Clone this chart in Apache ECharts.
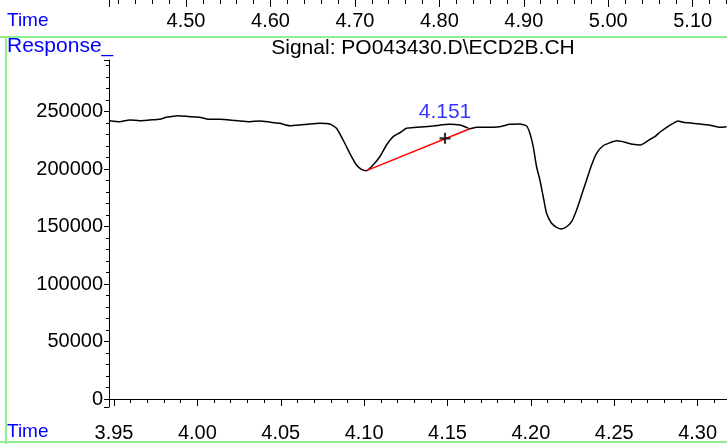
<!DOCTYPE html>
<html>
<head>
<meta charset="utf-8">
<script src="https://cdn.jsdelivr.net/npm/echarts@6/dist/echarts.min.js"></script>
<style>
html, body { margin: 0; padding: 0; background: #fff; }
#main { width: 727px; height: 444px; }
</style>
</head>
<body>
<div id="main"></div>
<script>
// signal trace (time, response)
var times = [3.9474, 3.9534, 3.9594, 3.9654, 3.9714, 3.9774, 3.9814, 3.9884, 3.9954, 4.0014,
	4.0054, 4.0134, 4.0194, 4.0254, 4.0314, 4.0374, 4.0434, 4.0494, 4.0554, 4.0614,
	4.0674, 4.0734, 4.0794, 4.0834, 4.0874, 4.0914, 4.0954, 4.0984, 4.1014, 4.1044,
	4.1094, 4.1134, 4.1174, 4.1214, 4.1254, 4.1314, 4.1414, 4.1514, 4.1574, 4.1614,
	4.1634, 4.1674, 4.1734, 4.1814, 4.1874, 4.1934, 4.1974, 4.1994, 4.2014, 4.2034,
	4.2054, 4.2074, 4.2094, 4.2124, 4.2154, 4.2184, 4.2214, 4.2244, 4.2274, 4.2304,
	4.2334, 4.2364, 4.2394, 4.2433, 4.2474, 4.2514, 4.2544, 4.2574, 4.2613, 4.2654,
	4.2684, 4.2714, 4.2744, 4.2773, 4.2814, 4.2853, 4.2883, 4.2913, 4.2973, 4.3014,
	4.3074, 4.3134, 4.3174];
var response = [242200, 241300, 242800, 242200, 242800, 243400, 245100, 246500, 245700, 245100,
	243700, 243400, 242800, 241900, 241300, 241900, 241000, 239900, 237800, 238400,
	239300, 239900, 239300, 235600, 225400, 213800, 203600, 199900, 198700, 202100,
	210800, 221000, 228300, 231700, 235600, 236400, 237600, 239000, 238400, 236400,
	235200, 236400, 236400, 237000, 239000, 239300, 237600, 231200, 219600, 202100,
	190600, 176000, 161600, 152900, 149400, 147900, 149900, 154300, 164500, 177500,
	190600, 203600, 213800, 220400, 223000, 224800, 224200, 223000, 221600, 221000,
	223000, 226000, 228300, 232100, 236400, 239900, 241900, 240800, 239900, 239300,
	238200, 236400, 237000];

// integration baseline of the peak
var baseTimes = [4.1014, 4.1634];
var baseValues = [198700, 235200];

// peak apex marker
var peakTimes = [4.1485];
var peakValues = [226800];
var peakLabels = ['4.151'];

// axis ranges
var timeRange = [3.947, 4.3176];
var upperTimeRange = [4.4088, 5.1406];
var responseRange = [-6960, 295000];

var signalName = 'Signal: PO043430.D\\ECD2B.CH';

var FONT = 'Liberation Sans, Arial, sans-serif';
var BLUE = '#0000ff';
var GREEN = '#90ee90';

function zip(a, b) {
	var out = [];
	for (var i = 0; i < a.length; i++) {
		out.push([a[i], b[i]]);
	}
	return out;
}

var myChart = echarts.init(document.getElementById('main'));

option = {
	backgroundColor : '#ffffff',
	animation : false,
	title : {
		text : signalName,
		left : 418,
		top : 33,
		textAlign : 'center',
		textStyle : {
			fontFamily : FONT,
			fontSize : 21,
			fontWeight : 'normal',
			color : '#000'
		}
	},
	grid : [ {
		left : 109,
		right : 0,
		top : 60,
		bottom : 37,
		outerBoundsMode : 'none'
	}, {
		// tail of the upper chart's time axis
		left : 109,
		right : 0,
		top : -60,
		height : 59,
		outerBoundsMode : 'none'
	} ],
	xAxis : [ {
		type : 'value',
		gridIndex : 0,
		min : timeRange[0],
		max : timeRange[1],
		splitNumber : 7,
		axisLine : { lineStyle : { color : '#000', width : 1 } },
		axisTick : { length : 7, lineStyle : { color : '#000' } },
		minorTick : { show : true, splitNumber : 5, length : 4, lineStyle : { color : '#000' } },
		splitLine : { show : false },
		axisLabel : {
			margin : 16,
			showMinLabel : false,
			showMaxLabel : false,
			color : '#000',
			fontFamily : FONT,
			fontSize : 20,
			formatter : function(v) { return v.toFixed(2); }
		}
	}, {
		type : 'value',
		gridIndex : 1,
		position : 'bottom',
		min : upperTimeRange[0],
		max : upperTimeRange[1],
		splitNumber : 7,
		axisLine : { show : false },
		axisTick : { length : 8, lineStyle : { color : '#000' } },
		minorTick : { show : true, splitNumber : 5, length : 5, lineStyle : { color : '#000' } },
		splitLine : { show : false },
		axisLabel : {
			margin : 12,
			showMinLabel : false,
			showMaxLabel : false,
			color : '#000',
			fontFamily : FONT,
			fontSize : 20,
			formatter : function(v) { return v.toFixed(2); }
		}
	} ],
	yAxis : [ {
		type : 'value',
		gridIndex : 0,
		min : responseRange[0],
		max : responseRange[1],
		splitNumber : 5,
		axisLine : { show : true, lineStyle : { color : '#000', width : 1 } },
		axisTick : { show : true, length : 5, lineStyle : { color : '#000' } },
		minorTick : { show : true, splitNumber : 5, length : 3, lineStyle : { color : '#000' } },
		splitLine : { show : false },
		axisLabel : {
			margin : 6,
			showMinLabel : false,
			showMaxLabel : false,
			color : '#000',
			fontFamily : FONT,
			fontSize : 20,
			formatter : function(v) { return String(Math.round(v)); }
		}
	}, {
		type : 'value',
		gridIndex : 1,
		min : 0,
		max : 1,
		show : false
	} ],
	series : [ {
		name : 'signal',
		type : 'line',
		xAxisIndex : 0,
		yAxisIndex : 0,
		symbol : 'none',
		smooth : 0.2,
		lineStyle : { color : '#000', width : 1.5 },
		data : zip(times, response)
	}, {
		name : 'baseline',
		type : 'line',
		xAxisIndex : 0,
		yAxisIndex : 0,
		symbol : 'none',
		lineStyle : { color : '#ff0000', width : 1.5 },
		z : 3,
		data : zip(baseTimes, baseValues)
	}, {
		name : 'peak',
		type : 'scatter',
		xAxisIndex : 0,
		yAxisIndex : 0,
		symbol : 'path://M4,0h2v4h4v2h-4v4h-2v-4h-4v-2h4z',
		symbolSize : 11,
		itemStyle : { color : '#000' },
		label : {
			show : true,
			position : 'top',
			distance : 10,
			color : BLUE,
			fontFamily : FONT,
			fontSize : 21,
			formatter : function(p) { return peakLabels[p.dataIndex]; }
		},
		z : 4,
		data : zip(peakTimes, peakValues)
	}, {
		type : 'line',
		xAxisIndex : 1,
		yAxisIndex : 1,
		symbol : 'none',
		data : []
	} ],
	graphic : [ {
		type : 'line',
		shape : { x1 : 0, y1 : 37, x2 : 727, y2 : 37 },
		style : { stroke : GREEN, lineWidth : 2 }
	}, {
		type : 'line',
		shape : { x1 : 0, y1 : 442, x2 : 727, y2 : 442 },
		style : { stroke : GREEN, lineWidth : 2 }
	}, {
		type : 'line',
		shape : { x1 : 6, y1 : 37, x2 : 6, y2 : 444 },
		style : { stroke : GREEN, lineWidth : 2 }
	}, {
		type : 'text',
		x : 7, y : 21,
		style : { text : 'Time', fill : BLUE, font : '19px ' + FONT, textVerticalAlign : 'middle' }
	}, {
		type : 'text',
		x : 7, y : 46,
		style : { text : 'Response_', fill : BLUE, font : '21px ' + FONT, textVerticalAlign : 'middle' }
	}, {
		type : 'text',
		x : 7, y : 432,
		style : { text : 'Time', fill : BLUE, font : '19px ' + FONT, textVerticalAlign : 'middle' }
	} ]
};
myChart.setOption(option);
</script>
</body>
</html>
